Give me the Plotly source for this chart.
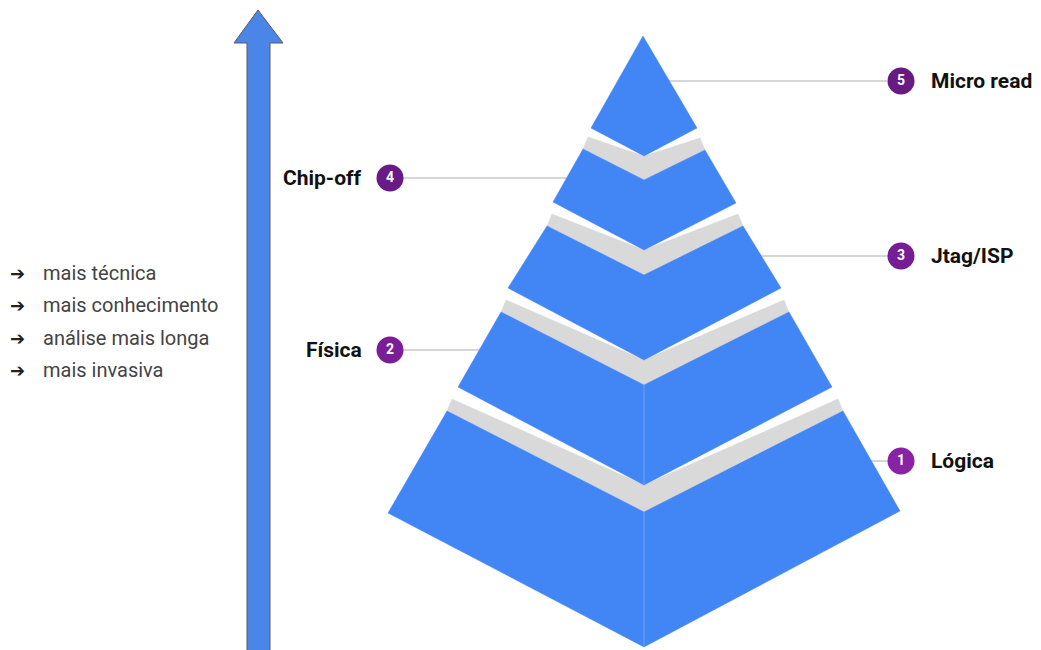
import plotly.graph_objects as go

# ---------------- data ----------------
level_numbers = [1, 2, 3, 4, 5]
level_labels = ["Lógica", "Física", "Jtag/ISP", "Chip-off", "Micro read"]
level_sides = ["right", "left", "right", "left", "right"]
level_colors = ["#8a22a6", "#7a1e98", "#761c94", "#6a1a86", "#661a82"]
bullet_items = ["mais técnica", "mais conhecimento", "análise mais longa", "mais invasiva"]

# ---------------- geometry (pixel space) ----------------
W, H = 1041, 650
OFF = 8  # page body margin compensation
CX = 644
# layers 1..4 (bottom to top): corner coordinates
lt_x = [447, 501, 547, 583]
lt_y = [411, 312, 226, 149]
lb_x = [388, 458, 508, 553]
lb_y = [513, 387, 288, 202]
rt_x = [843, 789, 743, 705]
rt_y = [411, 312, 226, 150]
rb_x = [900, 832, 781, 736]
rb_y = [511, 387, 288, 203]
c_top = [512, 385, 275, 180]
c_bot = [647, 485, 360, 250]
# top piece
apex = (643, 36)
top_l = (591, 128)
top_r = (697, 128)
top_c = 156
upper_cbot = [485, 360, 250, top_c]

label_y = [461, 350, 256, 178, 81]
circle_x = {"right": 901, "left": 390}
line_from = [850, 403, 720, 403, 660]
line_to = [888, 520, 888, 600, 887]

BLUE = "#4285f4"
GRAY = "#d9d9d9"

fig = go.Figure()

# leader lines
for i in range(5):
    fig.add_trace(go.Scatter(x=[line_from[i], line_to[i]], y=[label_y[i], label_y[i]],
                             mode="lines", line=dict(color="#c8c8c8", width=1.5),
                             hoverinfo="skip", showlegend=False))

# arrow on the left
ax = [247, 247, 234, 258, 283, 270, 270]
ay = [662, 43, 43, 10, 43, 43, 662]
fig.add_trace(go.Scatter(x=ax, y=ay, fill="toself", fillcolor="#4a86e8", mode="lines",
                         line=dict(color="#5a5a5a", width=1), hoverinfo="skip", showlegend=False))

# gray top faces
for i in range(4):
    xs = [lt_x[i], lt_x[i] + 5, CX, rt_x[i] - 5, rt_x[i], CX, lt_x[i]]
    ys = [lt_y[i], lt_y[i] - 12, upper_cbot[i], rt_y[i] - 12, rt_y[i], c_top[i], lt_y[i]]
    fig.add_trace(go.Scatter(x=xs, y=ys, fill="toself", fillcolor=GRAY, mode="lines",
                             line=dict(color=GRAY, width=0.5), hoverinfo="skip", showlegend=False))

# blue layers
for i in range(4):
    xs = [lt_x[i], CX, rt_x[i], rb_x[i], CX, lb_x[i], lt_x[i]]
    ys = [lt_y[i], c_top[i], rt_y[i], rb_y[i], c_bot[i], lb_y[i], lt_y[i]]
    fig.add_trace(go.Scatter(x=xs, y=ys, fill="toself", fillcolor=BLUE, mode="lines",
                             line=dict(color=BLUE, width=0.5), hoverinfo="skip", showlegend=False))
    if i < 2:
        fig.add_trace(go.Scatter(x=[CX, CX], y=[c_top[i], c_bot[i]], mode="lines",
                                 line=dict(color="#6ea2f7", width=1), hoverinfo="skip", showlegend=False))

fig.add_trace(go.Scatter(x=[apex[0], top_r[0], CX, top_l[0], apex[0]],
                         y=[apex[1], top_r[1], top_c, top_l[1], apex[1]],
                         fill="toself", fillcolor=BLUE, mode="lines",
                         line=dict(color=BLUE, width=0.5), hoverinfo="skip", showlegend=False))

# numbered circles
cxs = [circle_x[s] for s in level_sides]
fig.add_trace(go.Scatter(x=cxs, y=label_y, mode="markers+text",
                         marker=dict(size=27, color=level_colors, line=dict(width=0)),
                         text=[str(n) for n in level_numbers], textposition="middle center",
                         textfont=dict(family="Roboto", size=14, color="white", weight="bold"),
                         hoverinfo="skip", showlegend=False))

annotations = []
for i in range(5):
    if level_sides[i] == "right":
        annotations.append(dict(x=929, y=label_y[i], text=level_labels[i], xanchor="left",
                                yanchor="middle", showarrow=False,
                                font=dict(family="Roboto", size=21, color="#111111", weight="bold")))
    else:
        annotations.append(dict(x=364, y=label_y[i], text=level_labels[i], xanchor="right",
                                yanchor="middle", showarrow=False,
                                font=dict(family="Roboto", size=21, color="#111111", weight="bold")))

bullet_y = [273, 305, 338, 370]
for t, y in zip(bullet_items, bullet_y):
    annotations.append(dict(x=8, y=y, text="➔", xanchor="left", yanchor="middle",
                            showarrow=False, font=dict(family="DejaVu Sans", size=18, color="#222222")))
    annotations.append(dict(x=41, y=y, text=t, xanchor="left", yanchor="middle",
                            showarrow=False, font=dict(family="Roboto", size=20, color="#444444")))

fig.update_layout(
    width=W, height=H,
    margin=dict(l=0, r=0, t=0, b=0),
    paper_bgcolor="white", plot_bgcolor="white",
    xaxis=dict(range=[OFF, W + OFF], visible=False, fixedrange=True),
    yaxis=dict(range=[H + OFF, OFF], visible=False, fixedrange=True),
    annotations=annotations,
    showlegend=False,
)

fig.write_html("out.html")
